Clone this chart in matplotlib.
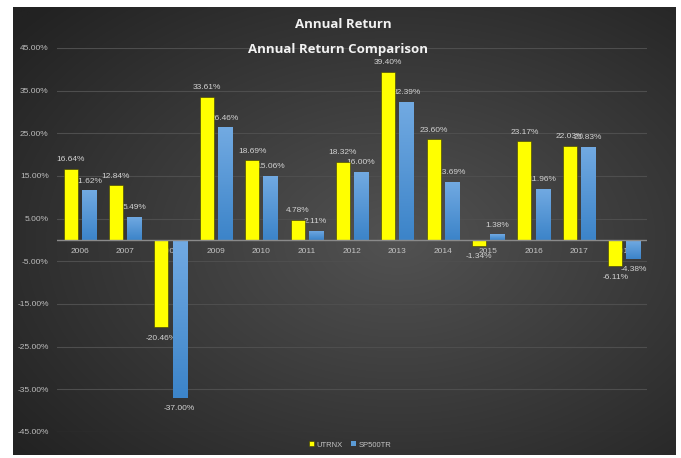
import numpy as np
import matplotlib
matplotlib.use("Agg")
import matplotlib.pyplot as plt
from matplotlib.colors import LinearSegmentedColormap

years = ["2006", "2007", "2008", "2009", "2010", "2011", "2012",
         "2013", "2014", "2015", "2016", "2017", "2018"]
utrnx = [16.64, 12.84, -20.46, 33.61, 18.69, 4.78, 18.32,
         39.40, 23.60, -1.34, 23.17, 22.03, -6.11]
sp500tr = [11.62, 5.49, -37.00, 26.46, 15.06, 2.11, 16.00,
           32.39, 13.69, 1.38, 11.96, 21.83, -4.38]
yticks = [-45, -35, -25, -15, -5, 5, 15, 25, 35, 45]

W, H = 681, 458
fig = plt.figure(figsize=(W / 100, H / 100), dpi=100)
fig.patch.set_facecolor("white")

# dark radial-gradient chart background
bx0, by0, bx1, by1 = 13, 7, 676, 455
bg = fig.add_axes([bx0 / W, 1 - by1 / H, (bx1 - bx0) / W, (by1 - by0) / H])
bg.set_axis_off()
gx, gy = np.meshgrid(np.linspace(0, 1, 300), np.linspace(0, 1, 200))
r = np.sqrt(((gx - 0.58) / 0.75) ** 2 + ((gy - 0.52) / 0.75) ** 2)
r = np.clip(r, 0, 1)
c_center = np.array([0x52, 0x52, 0x52]) / 255
c_edge = np.array([0x22, 0x22, 0x22]) / 255
img = c_center[None, None, :] + (c_edge - c_center)[None, None, :] * r[..., None]
bg.imshow(img, aspect="auto", extent=[0, 1, 0, 1], interpolation="bilinear")

# main plot area
px0, px1, py0, py1 = 57, 647, 48, 432
ax = fig.add_axes([px0 / W, 1 - py1 / H, (px1 - px0) / W, (py1 - py0) / H])
ax.patch.set_alpha(0)
for s in ax.spines.values():
    s.set_visible(False)

x = np.arange(len(years))
bw = 0.31
off = 0.2
font = "Liberation Sans"
txtc = "#d2d2d2"

b1 = ax.bar(x - off, utrnx, bw, color="#ffff00", edgecolor="#3a3a00",
            linewidth=0.4, zorder=3, label="UTRNX")
b2 = ax.bar(x + off, sp500tr, bw, color="#5b9bd5", linewidth=0,
            zorder=3, label="SP500TR")

# vertical gradient on blue bars
bcmap = LinearSegmentedColormap.from_list("bl", ["#3c84c9", "#72aae2"])
grad = np.linspace(0, 1, 64).reshape(-1, 1)
for p in b2.patches:
    xx0 = p.get_x()
    yy0 = min(p.get_y(), p.get_y() + p.get_height())
    yy1 = max(p.get_y(), p.get_y() + p.get_height())
    im = ax.imshow(grad, cmap=bcmap, aspect="auto", origin="lower",
                   extent=[xx0, xx0 + p.get_width(), yy0, yy1], zorder=3.1)
    im.set_clip_path(p)

ax.set_xlim(-0.5, len(years) - 0.5)
ax.set_ylim(-45, 45)
ax.set_yticks(yticks)
ax.set_yticklabels([f"{v:.2f}%" for v in yticks], fontsize=6,
                   color="#bdbdbd", family=font)
ax.tick_params(axis="y", length=0, pad=6)
ax.set_xticks([])
ax.grid(axis="y", color="#4e4e4e", linewidth=0.8, zorder=0)
ax.axhline(0, color="#8a8a8a", linewidth=1.0, zorder=4)

# category labels just below the zero line
for xi, yr in zip(x, years):
    ax.annotate(yr, (xi, 0), xytext=(0, -8.5), textcoords="offset points",
                ha="center", va="center", fontsize=6, color="#c4c4c4",
                family=font, zorder=2)

# data labels
for series, sx in ((utrnx, x - off), (sp500tr, x + off)):
    for xi, v in zip(sx, series):
        dy = 6.5 if v >= 0 else -8
        ax.annotate(f"{v:.2f}%", (xi, v), xytext=(0, dy),
                    textcoords="offset points", ha="center", va="center",
                    fontsize=6, color=txtc, family=font, zorder=2)

# titles
fig.text(343 / W, 1 - 25 / H, "Annual Return", ha="center", va="center",
         fontsize=9.5, fontweight="bold", color="#f2f2f2", family="Open Sans")
fig.text(338 / W, 1 - 49 / H, "Annual Return Comparison", ha="center",
         va="center", fontsize=9.5, fontweight="bold", color="#f2f2f2",
         family="Open Sans")

leg = fig.legend(handles=[b1, b2], labels=["UTRNX", "SP500TR"],
                 loc="center", bbox_to_anchor=(350 / W, 1 - 445 / H), ncol=2,
                 frameon=False, fontsize=5.5, handlelength=0.6,
                 handleheight=0.6, handletextpad=0.3, columnspacing=1.2,
                 prop={"family": font, "size": 5.5})
for t in leg.get_texts():
    t.set_color("#c4c4c4")

fig.savefig("out.png", dpi=100)
